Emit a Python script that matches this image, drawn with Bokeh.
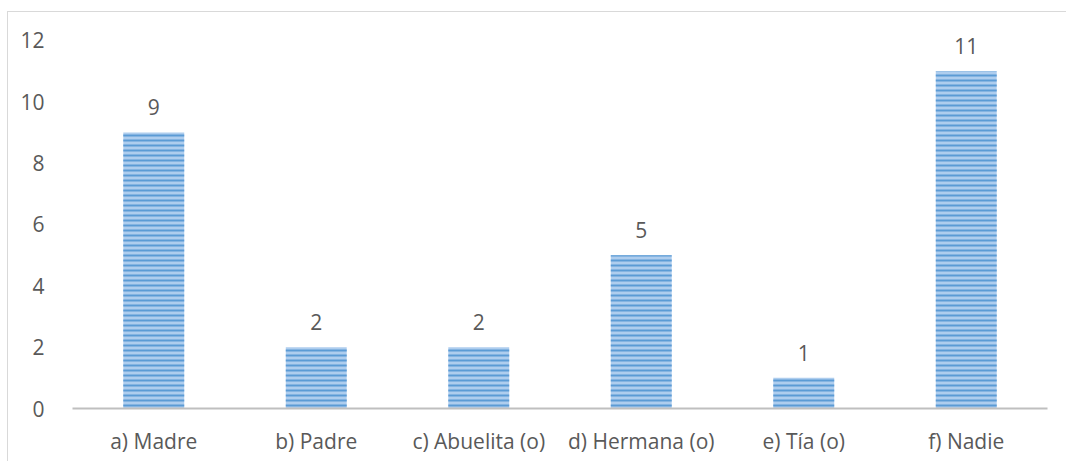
from bokeh.plotting import figure
from bokeh.models import ColumnDataSource, LabelSet, Range1d, FactorRange
from bokeh.core.properties import value
from bokeh.embed import file_html
from bokeh.resources import INLINE

categories = ["a) Madre", "b) Padre", "c) Abuelita (o)", "d) Hermana (o)", "e) Tía (o)", "f) Nadie"]
values = [9, 2, 2, 5, 1, 11]
y_ticks = [0, 2, 4, 6, 8, 10, 12]

FONT = "Open Sans"
TXT = "#595959"
FS = "21px"

src = ColumnDataSource(dict(x=categories, y=values, lbl=[str(v) for v in values]))

p = figure(x_range=FactorRange(*categories), y_range=Range1d(0, 12.913),
           width=1059, height=450, output_backend="svg", toolbar_location=None,
           min_border_left=64, min_border_right=20, min_border_top=0, min_border_bottom=54,
           styles={"margin-left": "7px", "margin-top": "11px",
                   "border-top": "1px solid #d9d9d9", "border-left": "1px solid #d9d9d9"})
p.x_range.range_padding = 0

p.vbar(x="x", top="y", width=0.375, source=src,
       fill_color="#aecdee", line_color=None,
       hatch_pattern="horizontal_line", hatch_color="#5b9bd5", hatch_scale=5, hatch_weight=2)

labels = LabelSet(x="x", y="y", text="lbl", source=src, text_align="center",
                  text_baseline="alphabetic", y_offset=17, text_font=value(FONT),
                  text_font_size=FS, text_color=TXT)
p.add_layout(labels)

p.xgrid.visible = False
p.ygrid.visible = False
p.outline_line_color = None

p.xaxis.axis_line_color = "#bfbfbf"
p.xaxis.axis_line_width = 2
p.xaxis.major_tick_line_color = None
p.xaxis.minor_tick_line_color = None
p.xaxis.major_label_text_font = FONT
p.xaxis.major_label_text_font_size = FS
p.xaxis.major_label_text_color = TXT
p.xaxis.major_label_standoff = 12

p.yaxis.ticker = y_ticks
p.yaxis.axis_line_color = None
p.yaxis.major_tick_line_color = None
p.yaxis.minor_tick_line_color = None
p.yaxis.major_label_text_font = FONT
p.yaxis.major_label_text_font_size = FS
p.yaxis.major_label_text_color = TXT
p.yaxis.major_label_standoff = 22

open("out.html", "w").write(file_html(p, INLINE))
